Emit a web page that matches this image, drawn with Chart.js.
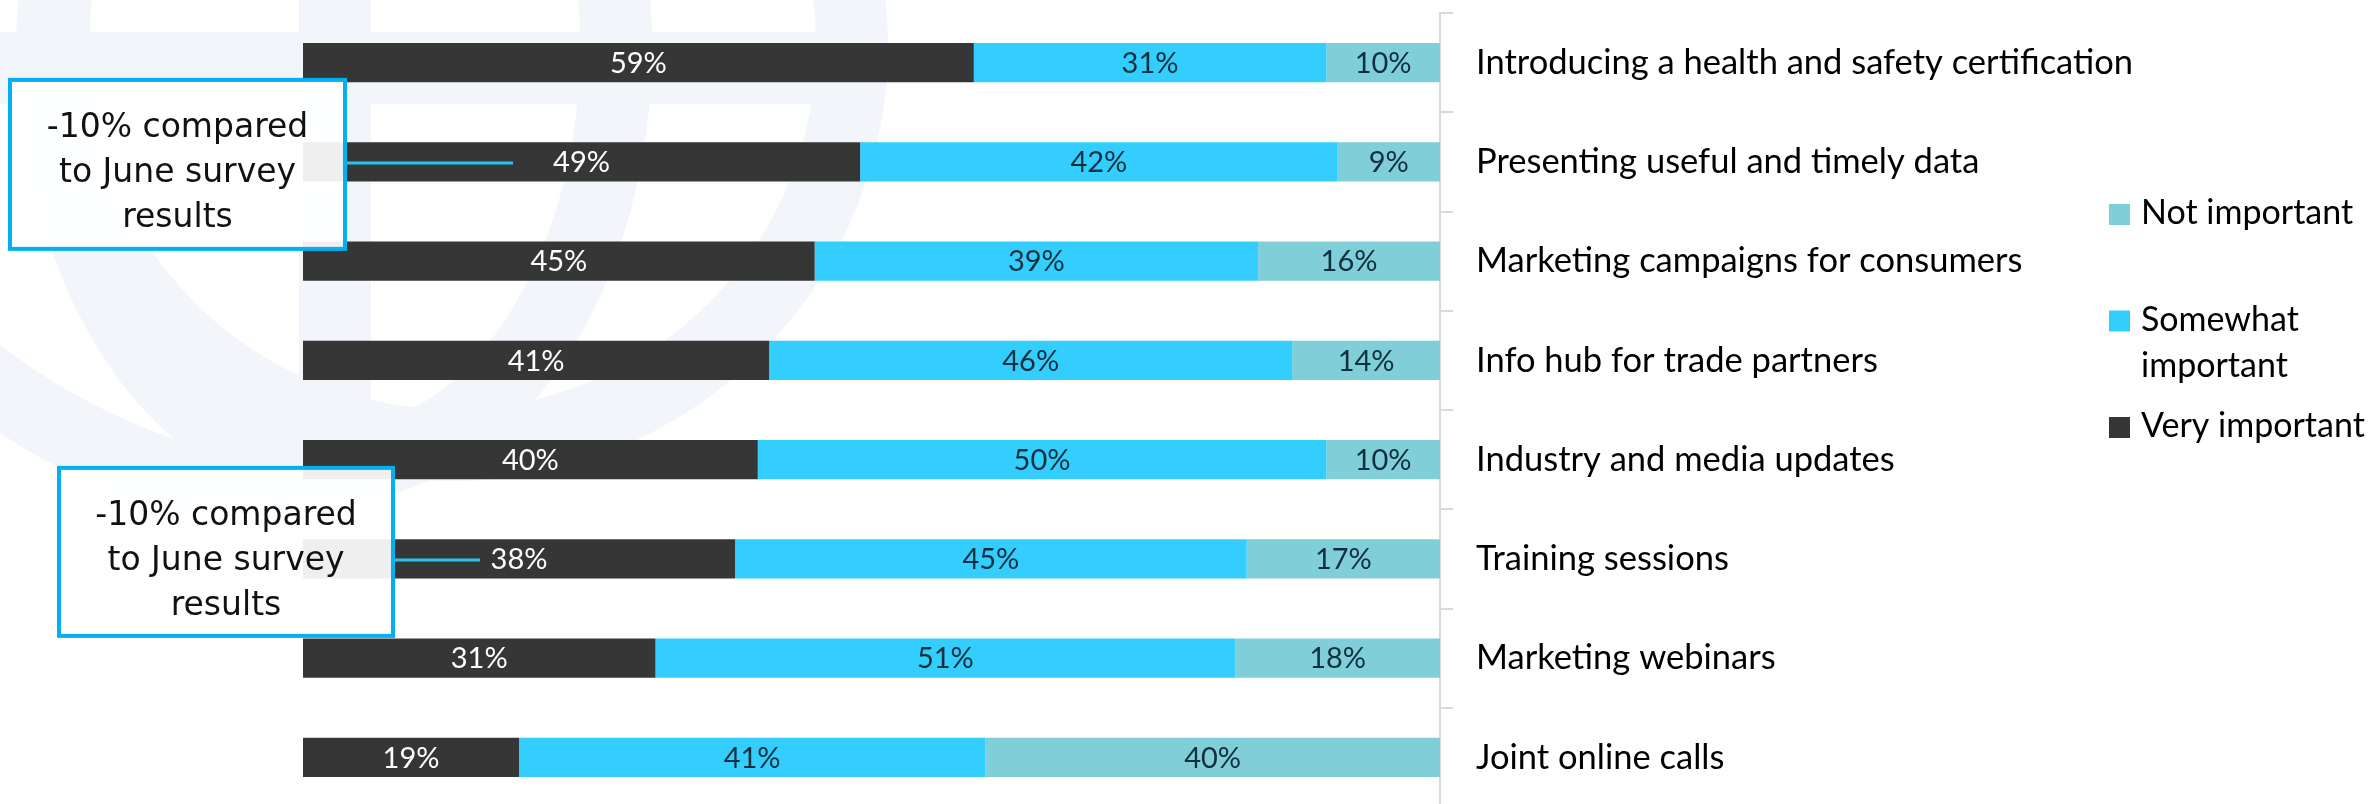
<!DOCTYPE html>
<html>
<head>
<meta charset="utf-8">
<title>Importance of support measures</title>
<script src="https://cdn.jsdelivr.net/npm/chart.js@4/dist/chart.umd.min.js"></script>
<style>
  html, body { margin: 0; padding: 0; background: #fff; overflow: hidden; }
  #wrap { width: 2376px; height: 808px; }
</style>
</head>
<body>
<div id="wrap"><canvas id="importance-chart" width="2376" height="808"></canvas></div>
<script>
  'use strict'

  // Survey data, one value per measure (percent of respondents)
  var categories = [
    'Introducing a health and safety certification',
    'Presenting useful and timely data',
    'Marketing campaigns for consumers',
    'Info hub for trade partners',
    'Industry and media updates',
    'Training sessions',
    'Marketing webinars',
    'Joint online calls'
  ]
  var veryImportant = [59, 49, 45, 41, 40, 38, 31, 19]
  var somewhatImportant = [31, 42, 39, 46, 50, 45, 51, 41]
  var notImportant = [10, 9, 16, 14, 10, 17, 18, 40]
  var seriesNames = ['Very important', 'Somewhat important', 'Not important']

  // Notes pinned to single rows
  var calloutLines = ['-10% compared', 'to June survey', 'results']
  var calloutRows = [1, 5]

  var colors = ['#363636', '#33cdfe', '#80ced7']
  var labelColors = ['#ffffff', '#10303f', '#10303f']
  var baseFont = 'Lato, "Open Sans", sans-serif'

  // Faint globe logo drawn behind the bars
  var globePlugin = {
    id: 'globe',
    beforeDraw: function (chart) {
      var ctx = chart.ctx
      ctx.save()
      ctx.fillStyle = '#ffffff'
      ctx.fillRect(0, 0, chart.width, chart.height)
      ctx.strokeStyle = '#f2f5f9'
      ctx.lineWidth = 72
      // outer rim
      ctx.beginPath()
      ctx.arc(452, 45, 400, 0, Math.PI * 2)
      ctx.stroke()
      // meridian
      ctx.beginPath()
      ctx.ellipse(335, 45, 281, 420, 0, 0, Math.PI * 2)
      ctx.stroke()
      // axis
      ctx.beginPath()
      ctx.moveTo(335, 0)
      ctx.lineTo(335, 462)
      ctx.stroke()
      // equator
      ctx.beginPath()
      ctx.moveTo(0, 68)
      ctx.lineTo(883, 68)
      ctx.stroke()
      // lower swoosh
      ctx.beginPath()
      ctx.arc(380, -150, 660, 1.6, 2.3)
      ctx.stroke()
      ctx.restore()
    }
  }

  // Percent labels centred in each segment
  var segmentLabels = {
    id: 'segmentLabels',
    afterDatasetsDraw: function (chart) {
      var ctx = chart.ctx
      var area = chart.chartArea
      ctx.save()
      ctx.font = '29px ' + baseFont
      ctx.textAlign = 'center'
      ctx.textBaseline = 'middle'
      chart.data.datasets.forEach(function (ds, i) {
        var meta = chart.getDatasetMeta(i)
        ctx.fillStyle = labelColors[i]
        meta.data.forEach(function (bar, j) {
          var left = Math.max(Math.min(bar.x, bar.base), area.left)
          var right = Math.min(Math.max(bar.x, bar.base), area.right)
          ctx.fillText(ds.data[j] + '%', (left + right) / 2, bar.y + 1)
        })
      })
      ctx.restore()
    }
  }

  // Boxed notes with a leader line into the bar
  var calloutPlugin = {
    id: 'callouts',
    afterDatasetsDraw: function (chart) {
      var ctx = chart.ctx
      var yScale = chart.scales.y
      var boxes = [
        { left: 8, top: -84, width: 339, height: 173, lineEnd: 513 },
        { left: 57, top: -93, width: 338, height: 172, lineEnd: 480 }
      ]
      ctx.save()
      calloutRows.forEach(function (row, k) {
        var b = boxes[k]
        var rowY = yScale.getPixelForValue(row)
        var top = rowY + b.top

        ctx.strokeStyle = '#29c3f0'
        ctx.lineWidth = 3
        ctx.beginPath()
        ctx.moveTo(b.left + b.width, rowY + 1)
        ctx.lineTo(b.lineEnd, rowY + 1)
        ctx.stroke()

        ctx.fillStyle = 'rgba(255,255,255,0.92)'
        ctx.fillRect(b.left + 2, top + 2, b.width - 4, b.height - 4)
        ctx.strokeStyle = '#00b0f0'
        ctx.lineWidth = 4
        ctx.strokeRect(b.left + 2, top + 2, b.width - 4, b.height - 4)

        ctx.fillStyle = '#111111'
        ctx.font = '33px "DejaVu Sans", sans-serif'
        ctx.textAlign = 'center'
        ctx.textBaseline = 'alphabetic'
        calloutLines.forEach(function (line, n) {
          ctx.fillText(line, b.left + b.width / 2, top + 59 + n * 45)
        })
      })
      ctx.restore()
    }
  }

  function wrapText(ctx, text, maxWidth) {
    var words = text.split(' ')
    var lines = []
    var current = ''
    words.forEach(function (w) {
      var test = current ? current + ' ' + w : w
      if (current && ctx.measureText(test).width > maxWidth) {
        lines.push(current)
        current = w
      } else {
        current = test
      }
    })
    if (current) lines.push(current)
    return lines
  }

  // Legend on the far right, series listed top-down in reverse stack order
  var sideLegend = {
    id: 'sideLegend',
    afterDraw: function (chart) {
      var ctx = chart.ctx
      var x = 2109
      var textX = 2141
      var size = 21
      var step = 106.5
      var startY = 204
      var maxWidth = chart.width - textX - 2
      ctx.save()
      ctx.font = '34px ' + baseFont
      ctx.textAlign = 'left'
      ctx.textBaseline = 'alphabetic'
      var items = chart.data.datasets.map(function (ds) {
        return { label: ds.label, color: ds.backgroundColor }
      }).reverse()
      items.forEach(function (item, k) {
        var top = startY + k * step
        ctx.fillStyle = item.color
        ctx.fillRect(x, top, size, size)
        ctx.fillStyle = '#000000'
        wrapText(ctx, item.label, maxWidth).forEach(function (line, n) {
          ctx.fillText(line, textX, top + size - 1 + n * 46)
        })
      })
      ctx.restore()
    }
  }

  var series = [veryImportant, somewhatImportant, notImportant]
  var chartData = {
    labels: categories,
    datasets: series.map(function (values, i) {
      return {
        label: seriesNames[i],
        data: values,
        backgroundColor: colors[i],
        borderWidth: 0,
        barPercentage: 0.393,
        categoryPercentage: 1
      }
    })
  }

  var chartOptions = {
    indexAxis: 'y',
    responsive: false,
    animation: false,
    layout: {
      padding: { left: 303, top: 13, right: 0, bottom: 1 }
    },
    plugins: {
      legend: { display: false },
      tooltip: { enabled: false }
    },
    scales: {
      x: {
        display: false,
        stacked: true,
        min: 0,
        max: 100
      },
      y: {
        position: 'right',
        stacked: true,
        grid: {
          display: true,
          drawOnChartArea: false,
          drawTicks: true,
          tickLength: 13,
          color: '#d9d9d9',
          lineWidth: 2
        },
        border: { display: true, color: '#d9d9d9', width: 2 },
        ticks: {
          color: '#000000',
          padding: 23,
          font: { family: baseFont, size: 34.5 }
        },
        afterFit: function (scale) {
          // labels sit inside their bands, so no overhang padding is needed
          scale.width = 936
          scale.paddingTop = 0
          scale.paddingBottom = 0
        }
      }
    }
  }

  var importanceChart = new Chart(document.getElementById('importance-chart').getContext('2d'), {
    type: 'bar',
    data: chartData,
    options: chartOptions,
    plugins: [globePlugin, segmentLabels, calloutPlugin, sideLegend]
  })
</script>
</body>
</html>
